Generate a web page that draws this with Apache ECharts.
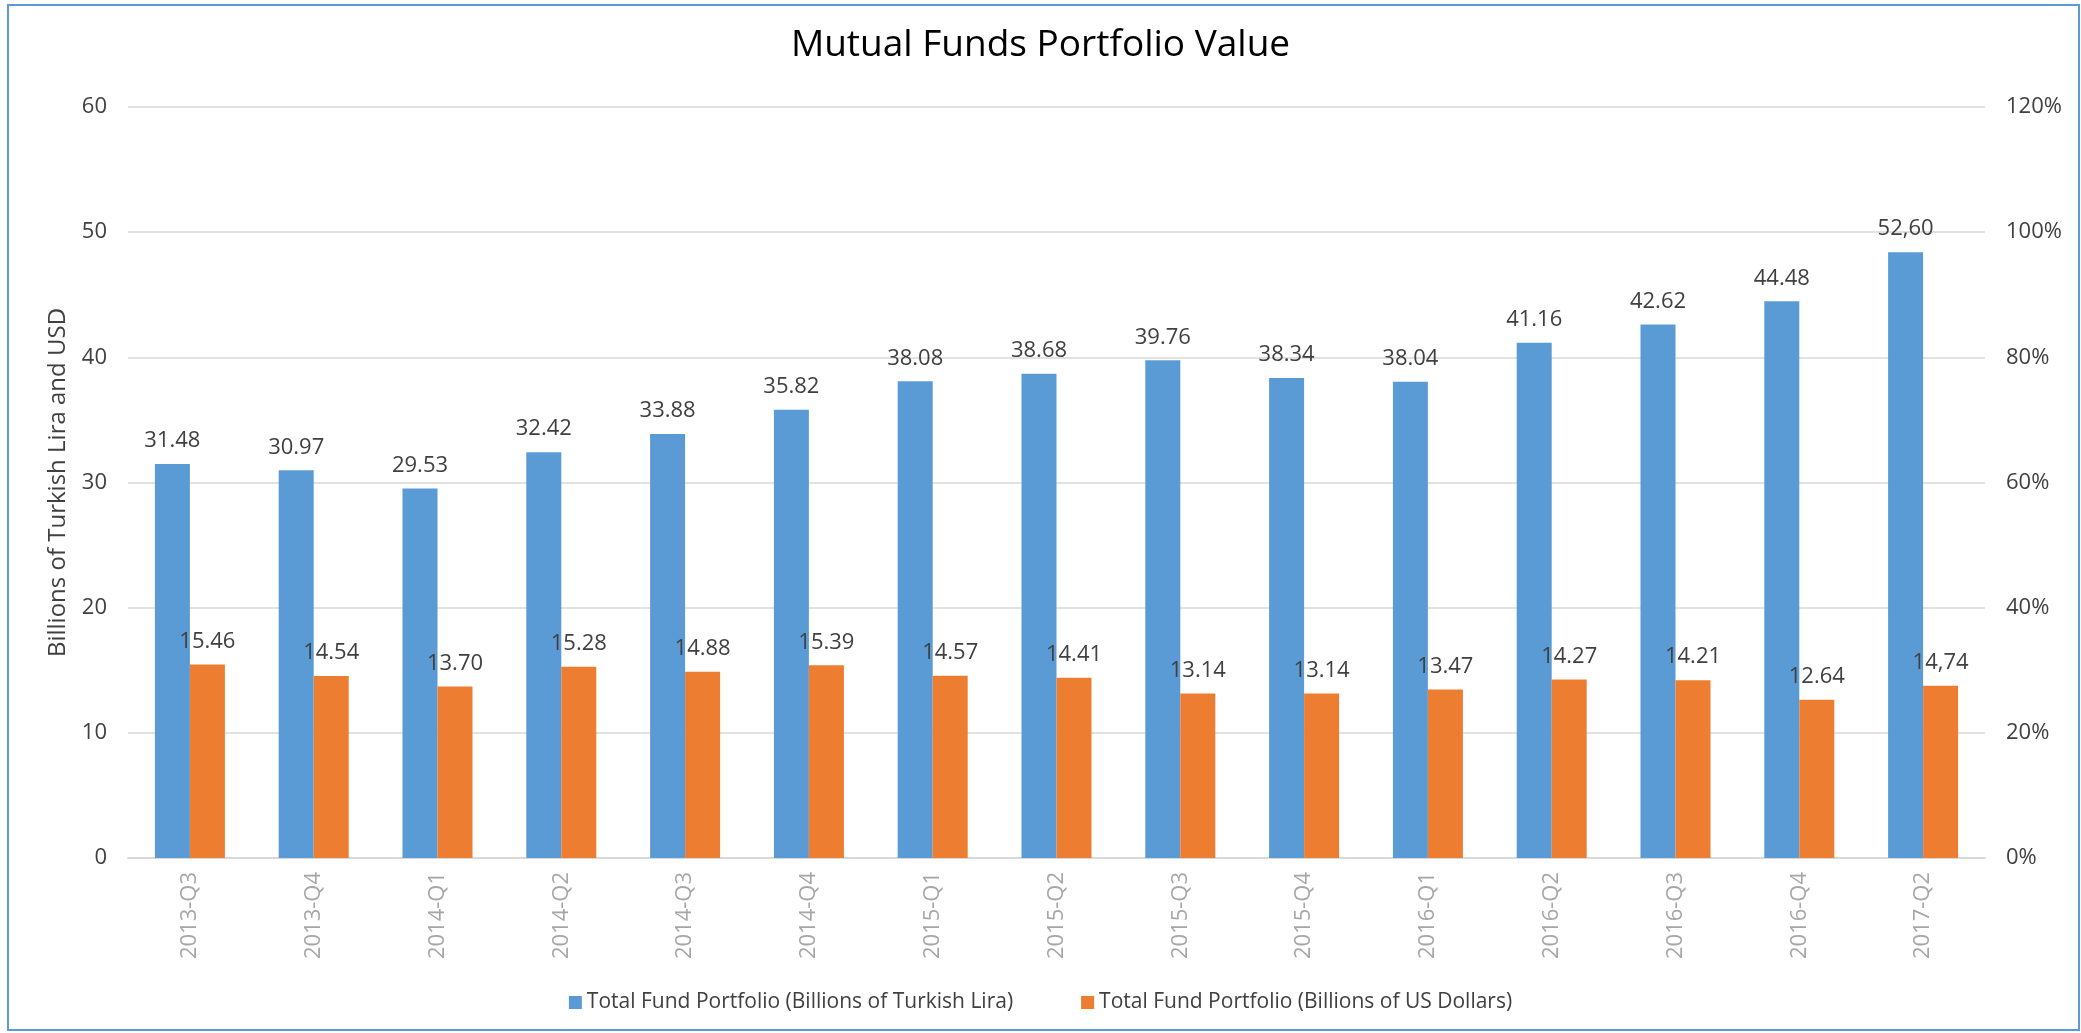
<!DOCTYPE html>
<html>
<head>
<meta charset="utf-8">
<title>Mutual Funds Portfolio Value</title>
<script src="https://cdn.jsdelivr.net/npm/echarts@6/dist/echarts.min.js"></script>
<style>
    html, body{
        margin: 0;
        padding: 0;
        background: #fff;
    }
    #main{
        width: 2081px;
        height: 1033px;
    }
</style>
</head>
<body>
<div id="main"></div>
<script>
    // quarters on the x axis
    var quarters = ['2013-Q3', '2013-Q4', '2014-Q1', '2014-Q2', '2014-Q3', '2014-Q4', '2015-Q1',
        '2015-Q2', '2015-Q3', '2015-Q4', '2016-Q1', '2016-Q2', '2016-Q3', '2016-Q4', '2017-Q2'];

    // bar heights
    var liraValues = [31.48, 30.97, 29.53, 32.42, 33.88, 35.82, 38.08, 38.68, 39.76, 38.34, 38.04, 41.16, 42.62, 44.48, 48.4];
    var usdValues = [15.46, 14.54, 13.70, 15.28, 14.88, 15.39, 14.57, 14.41, 13.14, 13.14, 13.47, 14.27, 14.21, 12.64, 13.76];

    // the printed labels (the last ones differ from the bars in the original)
    var liraLabels = ['31.48', '30.97', '29.53', '32.42', '33.88', '35.82', '38.08', '38.68', '39.76', '38.34', '38.04', '41.16', '42.62', '44.48', '52,60'];
    var usdLabels = ['15.46', '14.54', '13.70', '15.28', '14.88', '15.39', '14.57', '14.41', '13.14', '13.14', '13.47', '14.27', '14.21', '12.64', '14,74'];

    var seriesNames = ['Total Fund Portfolio (Billions of Turkish Lira)', 'Total Fund Portfolio (Billions of US Dollars)'];

    var FONT = '"Open Sans", "DejaVu Sans", sans-serif';
    var TEXT = '#404040';

    var myChart = echarts.init(document.getElementById('main'));

    function barLabel(labels){
        return {
            show: true,
            position: 'top',
            distance: 12,
            color: TEXT,
            fontFamily: FONT,
            fontSize: 22,
            formatter: function (p) { return labels[p.dataIndex]; }
        };
    }

    myChart.setOption({
        backgroundColor: '#fff',
        animation: false,
        title: {
            text: 'Mutual Funds Portfolio Value',
            left: 'center',
            top: 22,
            textStyle: {
                color: '#000',
                fontFamily: FONT,
                fontWeight: 'normal',
                fontSize: 37
            }
        },
        graphic: [{
            type: 'rect',
            shape: { x: 8, y: 5, width: 2071, height: 1025 },
            style: { fill: 'none', stroke: '#5B9BD5', lineWidth: 2 },
            silent: true
        }],
        legend: {
            bottom: 15,
            left: 'center',
            itemWidth: 13,
            itemHeight: 13,
            itemGap: 68,
            icon: 'rect',
            textStyle: {
                color: TEXT,
                fontFamily: FONT,
                fontSize: 21
            },
            data: seriesNames
        },
        grid: {
            left: 128,
            right: 96,
            top: 107,
            bottom: 175
        },
        xAxis: {
            type: 'category',
            data: quarters,
            axisTick: { show: false },
            axisLine: { lineStyle: { color: '#D9D9D9', width: 2 } },
            axisLabel: {
                interval: 0,
                rotate: 90,
                margin: 14,
                color: '#A6A6A6',
                fontFamily: FONT,
                fontSize: 22
            }
        },
        yAxis: [
            {
                type: 'value',
                min: 0,
                max: 60,
                interval: 10,
                name: 'Billions of Turkish Lira and USD',
                nameLocation: 'middle',
                nameGap: 58,
                nameTextStyle: {
                    color: TEXT,
                    fontFamily: FONT,
                    fontSize: 24
                },
                axisLabel: {
                    margin: 21,
                    color: TEXT,
                    fontFamily: FONT,
                    fontSize: 22
                },
                splitLine: { lineStyle: { color: '#D9D9D9', width: 1.5 } }
            },
            {
                type: 'value',
                min: 0,
                max: 120,
                interval: 20,
                position: 'right',
                axisLabel: {
                    margin: 21,
                    color: TEXT,
                    fontFamily: FONT,
                    fontSize: 22,
                    formatter: '{value}%'
                },
                splitLine: { show: false }
            }
        ],
        series: [
            {
                name: seriesNames[0],
                type: 'bar',
                barWidth: 35,
                barGap: '0%',
                itemStyle: { color: '#5B9BD5' },
                label: barLabel(liraLabels),
                data: liraValues
            },
            {
                name: seriesNames[1],
                type: 'bar',
                barWidth: 35,
                barGap: '0%',
                itemStyle: { color: '#ED7D31' },
                label: barLabel(usdLabels),
                data: usdValues
            }
        ]
    });
</script>
</body>
</html>
